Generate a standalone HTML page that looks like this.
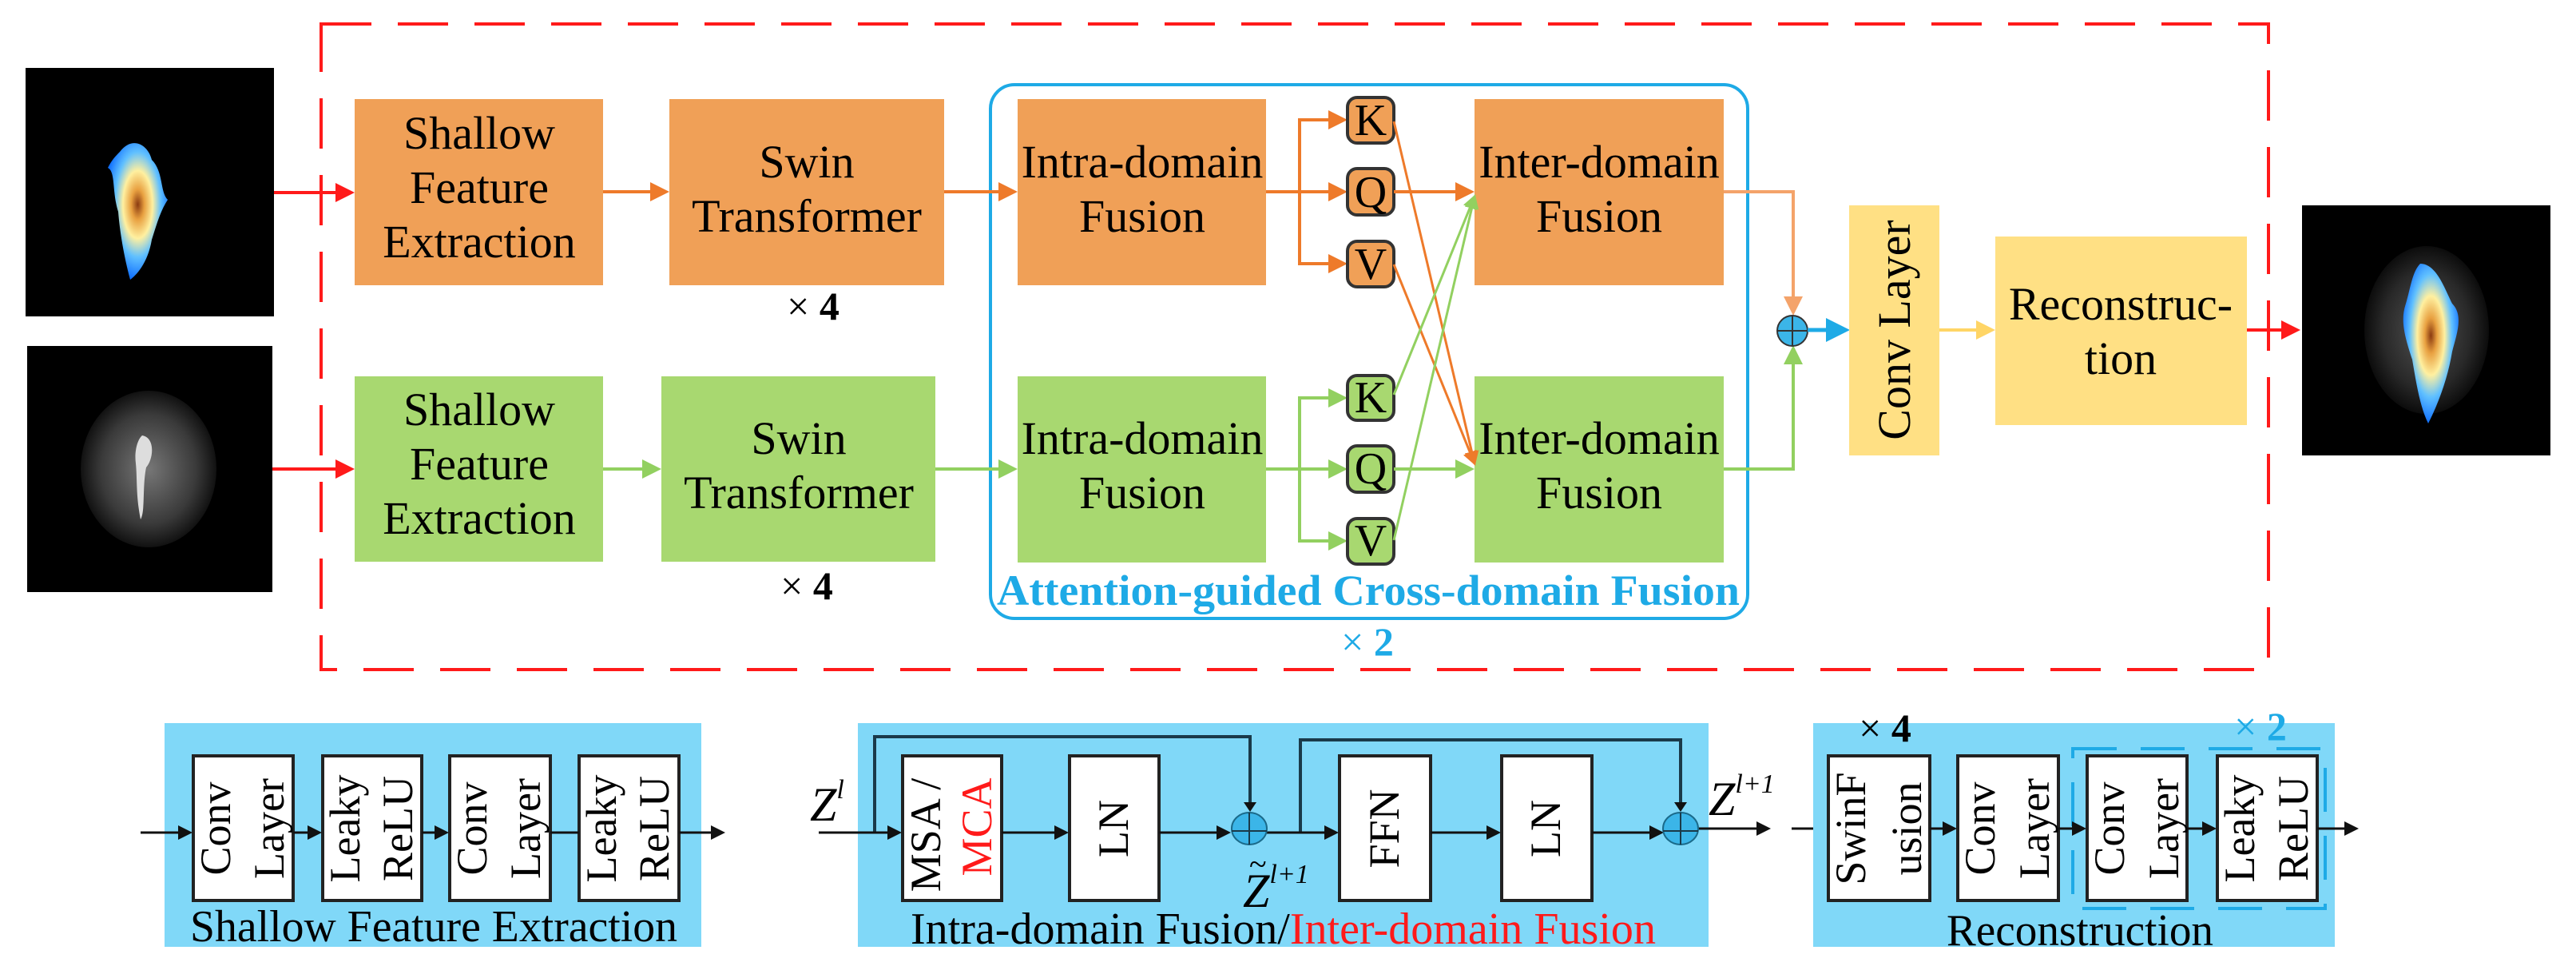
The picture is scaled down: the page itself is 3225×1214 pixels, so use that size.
<!DOCTYPE html>
<html><head><meta charset="utf-8"><style>
html,body{margin:0;padding:0;background:#fff;}
svg{display:block;font-family:"Liberation Serif","Times New Roman",serif;}
svg text{font-family:"Liberation Serif","Times New Roman",serif;}
</style></head><body>
<svg width="3225" height="1214" viewBox="0 0 3225 1214" xmlns="http://www.w3.org/2000/svg" font-family="Liberation Serif, Times New Roman, serif">
<defs>
<marker id="aR" markerWidth="6" markerHeight="6" refX="5" refY="3" orient="auto" markerUnits="strokeWidth"><path d="M0,0 L6,3 L0,6 Z" fill="#FF1A1A"/></marker>
<marker id="aO" markerWidth="6" markerHeight="6" refX="5" refY="3" orient="auto" markerUnits="strokeWidth"><path d="M0,0 L6,3 L0,6 Z" fill="#EE7A2A"/></marker>
<marker id="aO2" markerWidth="6" markerHeight="6" refX="5" refY="3" orient="auto" markerUnits="strokeWidth"><path d="M0,0 L6,3 L0,6 Z" fill="#F4A36A"/></marker>
<marker id="aG" markerWidth="6" markerHeight="6" refX="5" refY="3" orient="auto" markerUnits="strokeWidth"><path d="M0,0 L6,3 L0,6 Z" fill="#92D060"/></marker>
<marker id="aB" markerWidth="6" markerHeight="6" refX="5" refY="3" orient="auto" markerUnits="strokeWidth"><path d="M0,0 L6,3 L0,6 Z" fill="#1EAAE6"/></marker>
<marker id="aY" markerWidth="6" markerHeight="6" refX="5" refY="3" orient="auto" markerUnits="strokeWidth"><path d="M0,0 L6,3 L0,6 Z" fill="#FFD566"/></marker>
<marker id="aK" markerWidth="6" markerHeight="6" refX="5" refY="3" orient="auto" markerUnits="strokeWidth"><path d="M0,0 L6,3 L0,6 Z" fill="#111"/></marker>
<radialGradient id="gBlob" cx="50%" cy="45%" r="55%"><stop offset="0" stop-color="#8a3a10"/><stop offset="0.2" stop-color="#e8a040"/><stop offset="0.45" stop-color="#fff0a0"/><stop offset="0.7" stop-color="#60c0ff"/><stop offset="1" stop-color="#1070ff"/></radialGradient>
<radialGradient id="gGray" cx="50%" cy="50%" r="50%"><stop offset="0" stop-color="#777"/><stop offset="0.7" stop-color="#3a3a3a"/><stop offset="1" stop-color="#111"/></radialGradient>
</defs>

<rect x="32" y="85" width="311" height="311" fill="#000"/>
<path d="M150,190 C165,170 185,180 190,200 C205,215 200,240 210,250 C200,265 195,285 190,300 C185,330 170,345 163,350 C155,320 150,290 148,265 C140,240 145,215 135,210 C140,200 145,195 150,190 Z" fill="url(#gBlob)"/>
<rect x="34" y="433" width="307" height="308" fill="#000"/>
<ellipse cx="186" cy="587" rx="85" ry="98" fill="url(#gGray)"/>
<path d="M178,545 C195,548 192,575 183,585 C178,610 182,640 176,650 C170,620 172,600 170,580 C168,565 172,550 178,545Z" fill="#ddd"/>

<rect x="402" y="30" width="2438" height="808" fill="none" stroke="#FF1A1A" stroke-width="4" stroke-dasharray="63 33"/>
<rect x="1240" y="106" width="948" height="668" rx="30" fill="none" stroke="#1EAAE6" stroke-width="4"/>

<line x1="343" y1="241" x2="440" y2="241" stroke="#FF1A1A" stroke-width="4" marker-end="url(#aR)"/>
<line x1="341" y1="587" x2="440" y2="587" stroke="#FF1A1A" stroke-width="4" marker-end="url(#aR)"/>

<rect x="444" y="124" width="311" height="233" fill="#F0A057"/>
<text x="600" y="186" font-size="58" text-anchor="middle">Shallow</text>
<text x="600" y="254" font-size="58" text-anchor="middle">Feature</text>
<text x="600" y="322" font-size="58" text-anchor="middle">Extraction</text>
<line x1="755" y1="240" x2="834" y2="240" stroke="#EE7A2A" stroke-width="4" marker-end="url(#aO)"/>
<rect x="838" y="124" width="344" height="233" fill="#F0A057"/>
<text x="1010" y="222" font-size="58" text-anchor="middle">Swin</text>
<text x="1010" y="290" font-size="58" text-anchor="middle">Transformer</text>
<text x="1018" y="400" font-size="50" text-anchor="middle">× <tspan font-weight="bold">4</tspan></text>
<line x1="1182" y1="240" x2="1270" y2="240" stroke="#EE7A2A" stroke-width="4" marker-end="url(#aO)"/>
<rect x="1274" y="124" width="311" height="233" fill="#F0A057"/>
<text x="1430" y="222" font-size="58" text-anchor="middle">Intra-domain</text>
<text x="1430" y="290" font-size="58" text-anchor="middle">Fusion</text>
<rect x="1846" y="124" width="312" height="233" fill="#F0A057"/>
<text x="2002" y="222" font-size="58" text-anchor="middle">Inter-domain</text>
<text x="2002" y="290" font-size="58" text-anchor="middle">Fusion</text>

<rect x="444" y="471" width="311" height="232" fill="#A8D870"/>
<text x="600" y="532" font-size="58" text-anchor="middle">Shallow</text>
<text x="600" y="600" font-size="58" text-anchor="middle">Feature</text>
<text x="600" y="668" font-size="58" text-anchor="middle">Extraction</text>
<line x1="755" y1="587" x2="824" y2="587" stroke="#92D060" stroke-width="4" marker-end="url(#aG)"/>
<rect x="828" y="471" width="343" height="232" fill="#A8D870"/>
<text x="1000" y="568" font-size="58" text-anchor="middle">Swin</text>
<text x="1000" y="636" font-size="58" text-anchor="middle">Transformer</text>
<text x="1010" y="750" font-size="50" text-anchor="middle">× <tspan font-weight="bold">4</tspan></text>
<line x1="1171" y1="587" x2="1270" y2="587" stroke="#92D060" stroke-width="4" marker-end="url(#aG)"/>
<rect x="1274" y="471" width="311" height="233" fill="#A8D870"/>
<text x="1430" y="568" font-size="58" text-anchor="middle">Intra-domain</text>
<text x="1430" y="636" font-size="58" text-anchor="middle">Fusion</text>
<rect x="1846" y="471" width="312" height="233" fill="#A8D870"/>
<text x="2002" y="568" font-size="58" text-anchor="middle">Inter-domain</text>
<text x="2002" y="636" font-size="58" text-anchor="middle">Fusion</text>

<g stroke="#EE7A2A" stroke-width="4" fill="none">
<line x1="1585" y1="240" x2="1683" y2="240" marker-end="url(#aO)"/>
<polyline points="1683,150 1627,150 1627,330 1683,330"/>
</g>
<line x1="1640" y1="150" x2="1683" y2="150" stroke="#EE7A2A" stroke-width="4" marker-end="url(#aO)"/>
<line x1="1640" y1="330" x2="1683" y2="330" stroke="#EE7A2A" stroke-width="4" marker-end="url(#aO)"/>
<g stroke="#92D060" stroke-width="4" fill="none">
<line x1="1585" y1="587" x2="1683" y2="587" marker-end="url(#aG)"/>
<polyline points="1683,498 1627,498 1627,677 1683,677"/>
</g>
<line x1="1640" y1="498" x2="1683" y2="498" stroke="#92D060" stroke-width="4" marker-end="url(#aG)"/>
<line x1="1640" y1="677" x2="1683" y2="677" stroke="#92D060" stroke-width="4" marker-end="url(#aG)"/>

<g stroke="#333" stroke-width="4">
<rect x="1687" y="122" width="58" height="57" rx="12" fill="#F0A057"/>
<rect x="1687" y="211" width="58" height="58" rx="12" fill="#F0A057"/>
<rect x="1687" y="302" width="58" height="57" rx="12" fill="#F0A057"/>
<rect x="1687" y="470" width="58" height="56" rx="12" fill="#A8D870"/>
<rect x="1687" y="558" width="58" height="58" rx="12" fill="#A8D870"/>
<rect x="1687" y="649" width="58" height="57" rx="12" fill="#A8D870"/>
</g>
<g font-size="56" text-anchor="middle">
<text x="1716" y="169">K</text><text x="1716" y="259">Q</text><text x="1716" y="349">V</text>
<text x="1716" y="516">K</text><text x="1716" y="605">Q</text><text x="1716" y="695">V</text>
</g>

<line x1="1745" y1="240" x2="1842" y2="240" stroke="#EE7A2A" stroke-width="4" marker-end="url(#aO)"/>
<line x1="1745" y1="587" x2="1842" y2="587" stroke="#92D060" stroke-width="4" marker-end="url(#aG)"/>
<line x1="1745" y1="152" x2="1846" y2="580" stroke="#EE7A2A" stroke-width="3" marker-end="url(#aO)"/>
<line x1="1745" y1="331" x2="1846" y2="580" stroke="#EE7A2A" stroke-width="3" marker-end="url(#aO)"/>
<line x1="1745" y1="494" x2="1846" y2="246" stroke="#92D060" stroke-width="3" marker-end="url(#aG)"/>
<line x1="1745" y1="676" x2="1846" y2="246" stroke="#92D060" stroke-width="3" marker-end="url(#aG)"/>

<text x="1713" y="757" font-size="54" font-weight="bold" fill="#1EAAE6" text-anchor="middle" textLength="930" lengthAdjust="spacingAndGlyphs">Attention-guided Cross-domain Fusion</text>
<text x="1712" y="820" font-size="50" fill="#1EAAE6" text-anchor="middle">× <tspan font-weight="bold">2</tspan></text>

<polyline points="2158,240 2245,240 2245,391" fill="none" stroke="#F4A36A" stroke-width="4" marker-end="url(#aO2)"/>
<polyline points="2158,587 2245,587 2245,436" fill="none" stroke="#92D060" stroke-width="4" marker-end="url(#aG)"/>
<ellipse cx="2244" cy="414" rx="19" ry="19" fill="#3BB5E8" stroke="#333" stroke-width="2"/>
<line x1="2225" y1="414" x2="2263" y2="414" stroke="#333" stroke-width="2"/>
<line x1="2244" y1="395" x2="2244" y2="433" stroke="#333" stroke-width="2"/>
<line x1="2263" y1="413" x2="2311" y2="413" stroke="#1EAAE6" stroke-width="5" marker-end="url(#aB)"/>

<rect x="2315" y="257" width="113" height="313" fill="#FFE084"/>
<text transform="translate(2372,413) rotate(-90)" font-size="58" text-anchor="middle" dy="19">Conv Layer</text>
<line x1="2428" y1="413" x2="2494" y2="413" stroke="#FFD566" stroke-width="4" marker-end="url(#aY)"/>
<rect x="2498" y="296" width="315" height="236" fill="#FFE084"/>
<text x="2655" y="400" font-size="58" text-anchor="middle">Reconstruc-</text>
<text x="2655" y="468" font-size="58" text-anchor="middle">tion</text>
<line x1="2813" y1="413" x2="2876" y2="413" stroke="#FF1A1A" stroke-width="4" marker-end="url(#aR)"/>

<rect x="2882" y="257" width="311" height="313" fill="#000"/>
<ellipse cx="3038" cy="413" rx="78" ry="105" fill="url(#gGray)" opacity="0.7"/>
<path d="M3030,330 C3050,330 3060,360 3070,380 C3085,395 3075,420 3070,440 C3065,470 3055,500 3040,530 C3030,510 3025,480 3020,450 C3010,420 3005,400 3012,380 C3018,360 3020,340 3030,330Z" fill="url(#gBlob)"/>

<rect x="206" y="905" width="672" height="280" fill="#80D8F8"/>
<g stroke="#222" stroke-width="4" fill="#fff">
<rect x="242" y="946" width="125" height="181"/>
<rect x="404" y="946" width="124" height="181"/>
<rect x="563" y="946" width="126" height="181"/>
<rect x="725" y="946" width="125" height="181"/>
</g>
<g stroke="#111" stroke-width="3">
<line x1="176" y1="1042" x2="238" y2="1042" marker-end="url(#aK)"/>
<line x1="367" y1="1042" x2="400" y2="1042" marker-end="url(#aK)"/>
<line x1="528" y1="1042" x2="559" y2="1042" marker-end="url(#aK)"/>
<line x1="689" y1="1042" x2="725" y2="1042"/>
<line x1="850" y1="1042" x2="905" y2="1042" marker-end="url(#aK)"/>
</g>
<g font-size="54" text-anchor="middle">
<text transform="translate(271,1037) rotate(-90)" dy="17">Conv</text>
<text transform="translate(338,1037) rotate(-90)" dy="17">Layer</text>
<text transform="translate(433,1037) rotate(-90)" dy="17">Leaky</text>
<text transform="translate(499,1037) rotate(-90)" dy="17">ReLU</text>
<text transform="translate(592,1037) rotate(-90)" dy="17">Conv</text>
<text transform="translate(659,1037) rotate(-90)" dy="17">Layer</text>
<text transform="translate(754,1037) rotate(-90)" dy="17">Leaky</text>
<text transform="translate(820,1037) rotate(-90)" dy="17">ReLU</text>
</g>
<text x="543" y="1178" font-size="56" text-anchor="middle" textLength="610" lengthAdjust="spacingAndGlyphs">Shallow Feature Extraction</text>

<rect x="1074" y="905" width="1065" height="280" fill="#80D8F8"/>
<g stroke="#222" stroke-width="4" fill="#fff">
<rect x="1130" y="946" width="124" height="181"/>
<rect x="1339" y="946" width="112" height="181"/>
<rect x="1677" y="946" width="114" height="181"/>
<rect x="1880" y="946" width="113" height="181"/>
</g>
<g stroke="#1a3a4a" stroke-width="4" fill="none">
<polyline points="1095,1042 1095,922 1565,922 1565,1012"/>
<polyline points="1628,1042 1628,926 2104,926 2104,1012"/>
</g>
<path d="M1557,1004 L1573,1004 L1565,1016 Z" fill="#111"/>
<path d="M2096,1004 L2112,1004 L2104,1016 Z" fill="#111"/>
<g stroke="#111" stroke-width="3">
<line x1="1025" y1="1042" x2="1126" y2="1042" marker-end="url(#aK)"/>
<line x1="1254" y1="1042" x2="1335" y2="1042" marker-end="url(#aK)"/>
<line x1="1451" y1="1042" x2="1538" y2="1042" marker-end="url(#aK)"/>
<line x1="1586" y1="1042" x2="1673" y2="1042" marker-end="url(#aK)"/>
<line x1="1791" y1="1042" x2="1876" y2="1042" marker-end="url(#aK)"/>
<line x1="1993" y1="1042" x2="2080" y2="1042" marker-end="url(#aK)"/>
<line x1="2126" y1="1037" x2="2214" y2="1037" marker-end="url(#aK)"/>
<line x1="2243" y1="1037" x2="2285" y2="1037" marker-end="url(#aK)"/>
</g>
<ellipse cx="1564" cy="1037" rx="22" ry="20" fill="#3BB5E8" stroke="#1a6a8a" stroke-width="2"/>
<line x1="1564" y1="1017" x2="1564" y2="1057" stroke="#1a3a4a" stroke-width="2"/>
<line x1="1542" y1="1040" x2="1586" y2="1040" stroke="#1a3a4a" stroke-width="2"/>
<ellipse cx="2104" cy="1037" rx="22" ry="20" fill="#3BB5E8" stroke="#1a6a8a" stroke-width="2"/>
<line x1="2104" y1="1017" x2="2104" y2="1057" stroke="#1a3a4a" stroke-width="2"/>
<line x1="2082" y1="1040" x2="2126" y2="1040" stroke="#1a3a4a" stroke-width="2"/>

<text x="1014" y="1027" font-size="60" font-style="italic">Z<tspan font-size="34" dy="-28">l</tspan></text>
<text x="1556" y="1135" font-size="60" font-style="italic">Z<tspan font-size="34" dy="-30">l+1</tspan></text>
<text x="1564" y="1095" font-size="40">~</text>
<text x="2139" y="1020" font-size="60" font-style="italic">Z<tspan font-size="34" dy="-28">l+1</tspan></text>

<g font-size="54" text-anchor="middle">
<text transform="translate(1160,1045) rotate(-90)" dy="17">MSA /</text>
<text transform="translate(1224,1035) rotate(-90)" dy="17" fill="#FF1A1A">MCA</text>
<text transform="translate(1395,1037) rotate(-90)" dy="17">LN</text>
<text transform="translate(1734,1037) rotate(-90)" dy="17">FFN</text>
<text transform="translate(1936,1037) rotate(-90)" dy="17">LN</text>
</g>
<text x="1140" y="1181" font-size="56" textLength="933" lengthAdjust="spacingAndGlyphs">Intra-domain Fusion/<tspan fill="#FF1A1A">Inter-domain Fusion</tspan></text>

<rect x="2270" y="905" width="653" height="280" fill="#80D8F8"/>
<g stroke="#222" stroke-width="4" fill="#fff">
<rect x="2289" y="946" width="127" height="181"/>
<rect x="2451" y="946" width="126" height="181"/>
<rect x="2613" y="946" width="125" height="181"/>
<rect x="2776" y="946" width="125" height="181"/>
</g>
<rect x="2595" y="937" width="316" height="200" fill="none" stroke="#1EAAE6" stroke-width="4" stroke-dasharray="55 30"/>
<g stroke="#111" stroke-width="3">
<line x1="2416" y1="1037" x2="2447" y2="1037" marker-end="url(#aK)"/>
<line x1="2577" y1="1037" x2="2609" y2="1037" marker-end="url(#aK)"/>
<line x1="2738" y1="1037" x2="2772" y2="1037" marker-end="url(#aK)"/>
<line x1="2901" y1="1037" x2="2950" y2="1037" marker-end="url(#aK)"/>
</g>
<g font-size="54" text-anchor="middle">
<text transform="translate(2318,1037) rotate(-90)" dy="17">SwinF</text>
<text transform="translate(2388,1037) rotate(-90)" dy="17">usion</text>
<text transform="translate(2480,1037) rotate(-90)" dy="17">Conv</text>
<text transform="translate(2548,1037) rotate(-90)" dy="17">Layer</text>
<text transform="translate(2642,1037) rotate(-90)" dy="17">Conv</text>
<text transform="translate(2710,1037) rotate(-90)" dy="17">Layer</text>
<text transform="translate(2805,1037) rotate(-90)" dy="17">Leaky</text>
<text transform="translate(2872,1037) rotate(-90)" dy="17">ReLU</text>
</g>
<text x="2360" y="928" font-size="50" text-anchor="middle">× <tspan font-weight="bold">4</tspan></text>
<text x="2830" y="926" font-size="50" fill="#1EAAE6" text-anchor="middle">× <tspan font-weight="bold">2</tspan></text>
<text x="2604" y="1183" font-size="56" text-anchor="middle" textLength="334" lengthAdjust="spacingAndGlyphs">Reconstruction</text>
</svg>
</body></html>
